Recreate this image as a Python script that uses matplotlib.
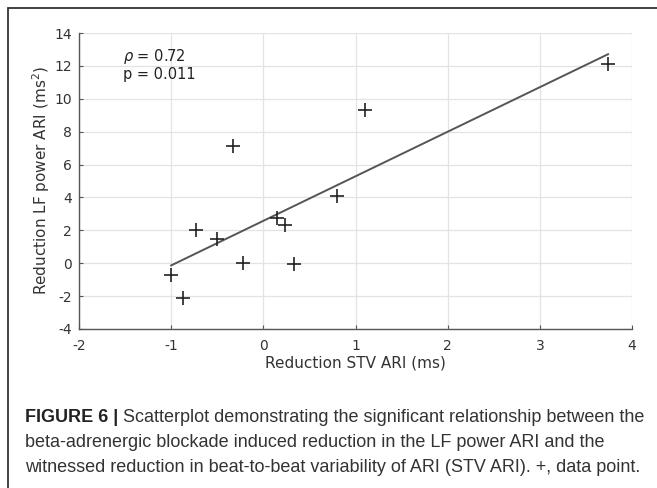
import numpy as np
import matplotlib
matplotlib.use('Agg')
import matplotlib.pyplot as plt
from matplotlib.patches import Rectangle

plt.rcParams['axes.unicode_minus'] = False

stv_red = [-1.0, -0.87, -0.73, -0.5, -0.33, -0.22, 0.15, 0.24, 0.33, 0.8, 1.1, 3.74]
lf_red = [-0.7, -2.13, 2.0, 1.5, 7.1, 0.0, 2.75, 2.3, -0.05, 4.1, 9.3, 12.1]
xticks = [-2, -1, 0, 1, 2, 3, 4]
yticks = [-4, -2, 0, 2, 4, 6, 8, 10, 12, 14]
rho_txt = r'$\rho$ = 0.72'
p_txt = 'p = 0.011'
cap_bold = 'FIGURE 6 | '
cap_lines = ['Scatterplot demonstrating the significant relationship between the',
             'beta-adrenergic blockade induced reduction in the LF power ARI and the',
             'witnessed reduction in beat-to-beat variability of ARI (STV ARI). +, data point.']

W, H = 657, 488
fig = plt.figure(figsize=(W / 100, H / 100), dpi=100)
ax = fig.add_axes([79 / W, 1 - 329 / H, 553 / W, 296 / H])

# linear fit
x = np.array(stv_red)
y = np.array(lf_red)
k, b = np.polyfit(x, y, 1)
xl = np.array([x.min(), x.max()])
ax.plot(xl, k * xl + b, color='#555555', lw=1.4, zorder=3)
ax.plot(x, y, ls='none', marker='+', ms=10, mew=1.2, color='#222222', zorder=4)

ax.set_xlim(-2, 4)
ax.set_ylim(-4, 14)
ax.set_xticks(xticks)
ax.set_yticks(yticks)
ax.grid(True, color='#e3e3e3', lw=0.9)
ax.set_axisbelow(True)
for s in ['top', 'right']:
    ax.spines[s].set_visible(False)
for s in ['left', 'bottom']:
    ax.spines[s].set_color('#555555')
    ax.spines[s].set_linewidth(1.0)
ax.tick_params(direction='in', length=3, color='#555555', labelsize=10,
               labelcolor='#333333')
ax.tick_params(axis='x', pad=7)
ax.tick_params(axis='y', pad=5)
ax.set_xlabel('Reduction STV ARI (ms)', fontsize=11, color='#333333', labelpad=2)
ax.set_ylabel('Reduction LF power ARI (ms$^2$)', fontsize=11, color='#333333', labelpad=2)

ax.text(-1.52, 12.55, rho_txt, fontsize=10.5, color='#222222', va='center')
ax.text(-1.52, 11.5, p_txt, fontsize=10.5, color='#222222', va='center')

# outer frame
fig.add_artist(Rectangle((8 / W, -0.2), 1.2, 1.2 - 8 / H, transform=fig.transFigure,
                         fill=False, ec='#333333', lw=1.3, clip_on=False))

# caption
r = fig.canvas.get_renderer()
cap_y = [417, 442.5, 468]
fs = 12
t3 = fig.text(25 / W, 1 - cap_y[2] / H, cap_lines[2], fontsize=fs, family='Liberation Sans',
              color='#333333', va='center')
w3 = t3.get_window_extent(r).width
fs = fs * 618 / w3
t3.set_fontsize(fs)
tb = fig.text(25 / W, 1 - cap_y[0] / H, cap_bold, fontsize=fs, family='Liberation Sans',
              weight='bold', color='#222222', va='center')
wb = tb.get_window_extent(r).width
fig.text((25 + wb) / W, 1 - cap_y[0] / H, cap_lines[0], fontsize=fs, family='Liberation Sans',
         color='#333333', va='center')
fig.text(25 / W, 1 - cap_y[1] / H, cap_lines[1], fontsize=fs, family='Liberation Sans',
         color='#333333', va='center')

fig.savefig('out.png', dpi=100)
